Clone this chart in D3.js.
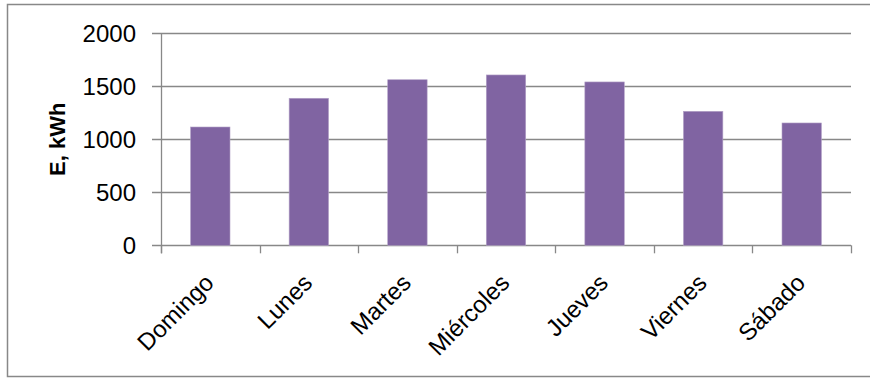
<!DOCTYPE html>
<html><head><meta charset="utf-8">
<script src="https://cdn.jsdelivr.net/npm/d3@7"></script>
<style>body{margin:0;background:#fff}svg{display:block}</style>
</head><body>
<script>
const categories = ["Domingo","Lunes","Martes","Miércoles","Jueves","Viernes","Sábado"];
const values = [1116, 1387, 1562, 1607, 1541, 1264, 1154];
const yTicks = [0, 500, 1000, 1500, 2000];
const yLabel = "E, kWh";

const W = 870, H = 379;
const font = "'Liberation Sans', Arial, sans-serif";
const svg = d3.select("body").append("svg").attr("width", W).attr("height", H);

svg.append("rect").attr("x", 7.5).attr("y", 4.5).attr("width", 870).attr("height", 372)
  .attr("fill", "#fff").attr("stroke", "#888").attr("stroke-width", 1.5);

const m = {left: 161, right: 851, top: 33.3, bottom: 245.3};
const x = d3.scaleBand().domain(categories).range([m.left, m.right]).paddingInner(0.6).paddingOuter(0.3);
const xb = d3.scaleBand().domain(categories).range([m.left, m.right]);
const y = d3.scaleLinear().domain([0, 2000]).range([m.bottom, m.top]);

// gridlines
svg.append("g").selectAll("line").data(yTicks).join("line")
  .attr("x1", m.left - 9).attr("x2", m.right)
  .attr("y1", d => Math.round(y(d)) + 0.5).attr("y2", d => Math.round(y(d)) + 0.5)
  .attr("stroke", "#888").attr("stroke-width", 1.3);

// y tick labels
svg.append("g").selectAll("text").data(yTicks).join("text")
  .attr("x", m.left - 25).attr("y", d => y(d)).attr("dy", "0.36em")
  .attr("text-anchor", "end").attr("font-family", font).attr("font-size", 24).attr("fill", "#000")
  .text(d => d);

// bars
svg.append("g").selectAll("rect").data(values).join("rect")
  .attr("x", (d, i) => x(categories[i])).attr("width", x.bandwidth())
  .attr("y", d => y(d)).attr("height", d => y(0) - y(d))
  .attr("fill", "#8064A2").attr("stroke", "#B3A2C7").attr("stroke-width", 0.6);

// y axis line
svg.append("line").attr("x1", m.left + 0.5).attr("x2", m.left + 0.5)
  .attr("y1", m.top).attr("y2", m.bottom + 8).attr("stroke", "#888").attr("stroke-width", 1.3);

// x ticks (category boundaries)
const bounds = categories.map(c => xb(c)).concat([m.right]);
svg.append("g").selectAll("line").data(bounds).join("line")
  .attr("x1", d => Math.round(d) + 0.5).attr("x2", d => Math.round(d) + 0.5)
  .attr("y1", m.bottom).attr("y2", m.bottom + 8)
  .attr("stroke", "#888").attr("stroke-width", 1.3);

// x labels
svg.append("g").selectAll("text").data(categories).join("text")
  .attr("transform", d => `translate(${xb(d) + xb.bandwidth() / 2 + 5},${m.bottom + 39}) rotate(-45)`)
  .attr("text-anchor", "end").attr("font-family", font).attr("font-size", 24).attr("fill", "#000")
  .text(d => d);

// y label
svg.append("text")
  .attr("transform", `translate(65,${(m.top + m.bottom) / 2}) rotate(-90)`)
  .attr("text-anchor", "middle").attr("font-family", font).attr("font-size", 22)
  .attr("font-weight", "bold").attr("fill", "#000").text(yLabel);
</script>
</body></html>
